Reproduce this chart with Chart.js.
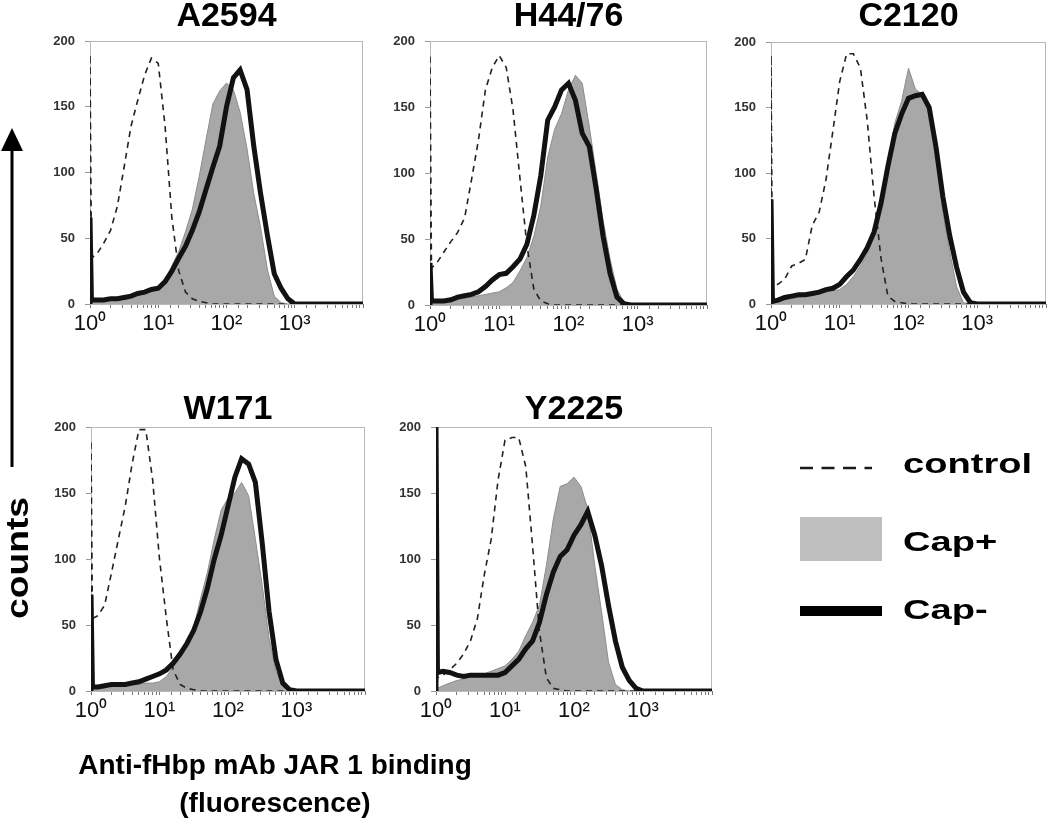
<!DOCTYPE html>
<html>
<head>
<meta charset="utf-8">
<script src="https://cdn.jsdelivr.net/npm/chart.js@4.4.1/dist/chart.umd.min.js"></script>
<style>
  body { margin: 0; background: #fff; }
  #wrap { position: relative; width: 1050px; height: 825px; overflow: hidden; font-family: "Liberation Sans", Arial, sans-serif; }
  canvas { position: absolute; }
  .lbl { position: absolute; font-weight: bold; color: #000; white-space: nowrap; line-height: 1; }
  .leg { font-size: 28px; transform: scaleX(1.36); transform-origin: left center; left: 903px; }
</style>
</head>
<body>
<div id="wrap">
  <canvas id="p1" width="327" height="349" style="left:40px;top:0px"></canvas>
  <canvas id="p2" width="331" height="350" style="left:380px;top:0px"></canvas>
  <canvas id="p3" width="329" height="349" style="left:721px;top:0px"></canvas>
  <canvas id="p4" width="328" height="343" style="left:41px;top:393px"></canvas>
  <canvas id="p5" width="330" height="343" style="left:386px;top:393px"></canvas>

  <svg width="1050" height="825" style="position:absolute;left:0;top:0;pointer-events:none">
    <line x1="12" y1="150" x2="12" y2="467" stroke="#000" stroke-width="3"/>
    <polygon points="1,151 23,151 12,128" fill="#000"/>
    <line x1="800" y1="468" x2="872" y2="468" stroke="#1a1a1a" stroke-width="2.6" stroke-dasharray="13 8.5"/>
    <rect x="800" y="517" width="82" height="44" fill="#bfbfbf"/>
    <rect x="800" y="606" width="82" height="10" fill="#000"/>
  </svg>

  <div class="lbl" style="left:17px;top:558px;font-size:31px;transform:translate(-50%,-50%) rotate(-90deg) scaleX(1.2)">counts</div>
  <div class="lbl" style="left:25px;top:746px;width:500px;text-align:center;font-size:28px;line-height:38px">Anti-fHbp mAb JAR 1 binding<br>(fluorescence)</div>
  <div class="lbl leg" style="top:450px">control</div>
  <div class="lbl leg" style="top:528px">Cap+</div>
  <div class="lbl leg" style="top:596px">Cap-</div>
</div>

<script>
// fluorescence channel (bin) positions shared by every histogram
const channels = [1, 1, 1.05,
  1.26, 1.58, 2, 2.51, 3.16, 3.98, 5.01, 6.31, 7.94, 10,
  12.6, 15.8, 20, 25.1, 31.6, 39.8, 50.1, 63.1, 79.4, 100,
  126, 158, 200, 251, 316, 398, 501, 631, 794, 1000,
  1259, 10000];

const yTicks = [0, 50, 100, 150, 200];
const xTickLabels = { 1: '10⁰', 10: '10¹', 100: '10²', 1000: '10³' };

// A2594
const a2594Control = [0, 190, 35, 38, 46, 56, 74, 104, 135, 155, 174, 187, 183, 135, 66, 25, 9, 4, 2, 1, 0, 0, 0, 0, 0, 0, 0, 0, 0, 0, 0, 0, 0, 0, 0];
const a2594CapPlus = [0, 2, 2, 2, 3, 3, 4, 5, 6, 8, 10, 12, 13, 16, 29, 40, 55, 72, 97, 125, 152, 162, 168, 163, 146, 118, 84, 58, 26, 6, 1, 0, 0, 0, 0];
const a2594CapMinus = [0, 66, 3, 3, 3, 4, 4, 5, 6, 8, 9, 11, 12, 17, 25, 35, 44, 56, 70, 87, 104, 120, 150, 172, 178, 163, 120, 84, 52, 23, 12, 4, 0, 0, 0];

// H44/76
const h4476Control = [0, 190, 28, 32, 40, 48, 55, 66, 95, 125, 163, 180, 189, 180, 148, 95, 45, 12, 3, 1, 0, 0, 0, 0, 0, 0, 0, 0, 0, 0, 0, 0, 0, 0, 0];
const h4476CapPlus = [0, 2, 2, 2, 2, 3, 4, 5, 6, 7, 8, 9, 10, 13, 17, 26, 36, 52, 75, 112, 133, 145, 163, 174, 168, 135, 100, 64, 35, 12, 2, 0, 0, 0, 0];
const h4476CapMinus = [0, 32, 3, 3, 3, 4, 6, 7, 8, 10, 14, 19, 23, 24, 29, 35, 46, 68, 98, 140, 150, 163, 168, 155, 130, 120, 88, 52, 24, 6, 1, 0, 0, 0, 0];

// C2120
const c2120Control = [0, 190, 14, 15, 19, 29, 31, 34, 60, 70, 95, 132, 170, 191, 191, 180, 140, 82, 35, 6, 2, 1, 0, 0, 0, 0, 0, 0, 0, 0, 0, 0, 0, 0, 0];
const c2120CapPlus = [0, 2, 2, 2, 3, 4, 5, 6, 7, 8, 9, 10, 11, 15, 21, 29, 38, 55, 72, 108, 138, 155, 180, 164, 160, 150, 118, 70, 40, 13, 1, 0, 0, 0, 0];
const c2120CapMinus = [0, 80, 2, 3, 5, 6, 7, 7, 8, 9, 11, 12, 15, 21, 26, 34, 43, 55, 77, 105, 130, 145, 157, 159, 160, 150, 120, 82, 52, 28, 9, 1, 0, 0, 0];

// W171
const w171Control = [0, 190, 55, 57, 65, 90, 115, 140, 172, 198, 198, 160, 100, 55, 16, 5, 2, 1, 0, 0, 0, 0, 0, 0, 0, 0, 0, 0, 0, 0, 0, 0, 0, 0, 0];
const w171CapPlus = [0, 2, 2, 3, 3, 3, 4, 4, 5, 5, 6, 6, 7, 11, 18, 27, 36, 48, 70, 90, 115, 137, 146, 150, 158, 148, 115, 80, 40, 15, 4, 1, 0, 0, 0];
const w171CapMinus = [0, 73, 3, 3, 4, 5, 5, 5, 6, 7, 9, 11, 13, 16, 21, 28, 36, 46, 60, 78, 100, 118, 140, 162, 176, 172, 158, 112, 60, 24, 6, 1, 0, 0, 0];

// Y2225
const y2225Control = [0, 190, 10, 12, 16, 21, 28, 38, 55, 88, 115, 160, 190, 192, 192, 170, 110, 45, 10, 2, 1, 0, 0, 0, 0, 0, 0, 0, 0, 0, 0, 0, 0, 0, 0];
const y2225CapPlus = [0, 2, 2, 4, 6, 8, 9, 11, 12, 13, 15, 17, 19, 24, 30, 42, 52, 65, 95, 130, 155, 157, 162, 155, 138, 95, 60, 22, 5, 1, 0, 0, 0, 0, 0];
const y2225CapMinus = [0, 200, 14, 15, 14, 12, 11, 12, 12, 12, 12, 12, 14, 19, 24, 32, 38, 52, 73, 90, 102, 107, 118, 126, 136, 118, 95, 65, 38, 18, 8, 2, 0, 0, 0];

const panels = [
  { id: 'p1', title: 'A2594', control: a2594Control, capPlus: a2594CapPlus, capMinus: a2594CapMinus, titleGap: 7 },
  { id: 'p2', title: 'H44/76', control: h4476Control, capPlus: h4476CapPlus, capMinus: h4476CapMinus, titleGap: 7 },
  { id: 'p3', title: 'C2120', control: c2120Control, capPlus: c2120CapPlus, capMinus: c2120CapMinus, titleGap: 8 },
  { id: 'p4', title: 'W171', control: w171Control, capPlus: w171CapPlus, capMinus: w171CapMinus, titleGap: 0 },
  { id: 'p5', title: 'Y2225', control: y2225Control, capPlus: y2225CapPlus, capMinus: y2225CapMinus, titleGap: 0 }
];

const toPoints = ys => channels.map((x, i) => ({ x: x, y: ys[i] }));

// light grey box around the plot area, behind the curves
const framePlugin = {
  id: 'frame',
  beforeDatasetsDraw(chart) {
    const { ctx, chartArea: a } = chart;
    ctx.save();
    ctx.strokeStyle = '#b8b8b8';
    ctx.lineWidth = 1;
    ctx.strokeRect(a.left + 0.5, a.top + 0.5, a.right - a.left - 1, a.bottom - a.top);
    ctx.restore();
  }
};

panels.forEach(p => {
  new Chart(document.getElementById(p.id), {
    type: 'line',
    data: {
      datasets: [
        {
          label: 'Cap-', data: toPoints(p.capMinus), order: 0,
          borderColor: '#121212', borderWidth: 5, pointRadius: 0, fill: false, tension: 0
        },
        {
          label: 'control', data: toPoints(p.control), order: 1,
          borderColor: '#222', borderWidth: 1.6, borderDash: [6, 5], pointRadius: 0, fill: false, tension: 0
        },
        {
          label: 'Cap+', data: toPoints(p.capPlus), order: 2,
          borderColor: '#8c8c8c', borderWidth: 1, backgroundColor: '#a8a8a8', pointRadius: 0, fill: 'origin', tension: 0
        }
      ]
    },
    options: {
      responsive: false,
      animation: false,
      layout: { padding: { right: 4 } },
      plugins: {
        legend: { display: false },
        tooltip: { enabled: false },
        title: {
          display: true,
          text: p.title,
          fullSize: false,
          color: '#000',
          font: { family: 'Liberation Sans, Arial', size: 34, weight: 'bold', lineHeight: 1 },
          padding: { top: 0, bottom: p.titleGap }
        }
      },
      scales: {
        x: {
          type: 'logarithmic',
          min: 1,
          max: 10000,
          afterFit(scale) { scale.height = 45; },
          border: { color: '#777' },
          grid: { drawOnChartArea: false, tickLength: 4, color: '#777' },
          ticks: {
            autoSkip: false,
            maxRotation: 0,
            minRotation: 0,
            padding: 3,
            color: '#111',
            font: { family: 'Liberation Sans, Arial', size: 22 },
            callback: v => xTickLabels[v] || ''
          }
        },
        y: {
          min: 0,
          max: 200,
          afterFit(scale) { scale.width = 50; },
          afterBuildTicks(scale) { scale.ticks = yTicks.map(v => ({ value: v })); },
          border: { color: '#999' },
          grid: { drawOnChartArea: false, tickLength: 5, color: '#999' },
          ticks: {
            padding: 10,
            color: '#333',
            font: { family: 'Liberation Sans, Arial', size: 13, weight: 'bold' }
          }
        }
      }
    },
    plugins: [framePlugin]
  });
});
</script>
</body>
</html>
